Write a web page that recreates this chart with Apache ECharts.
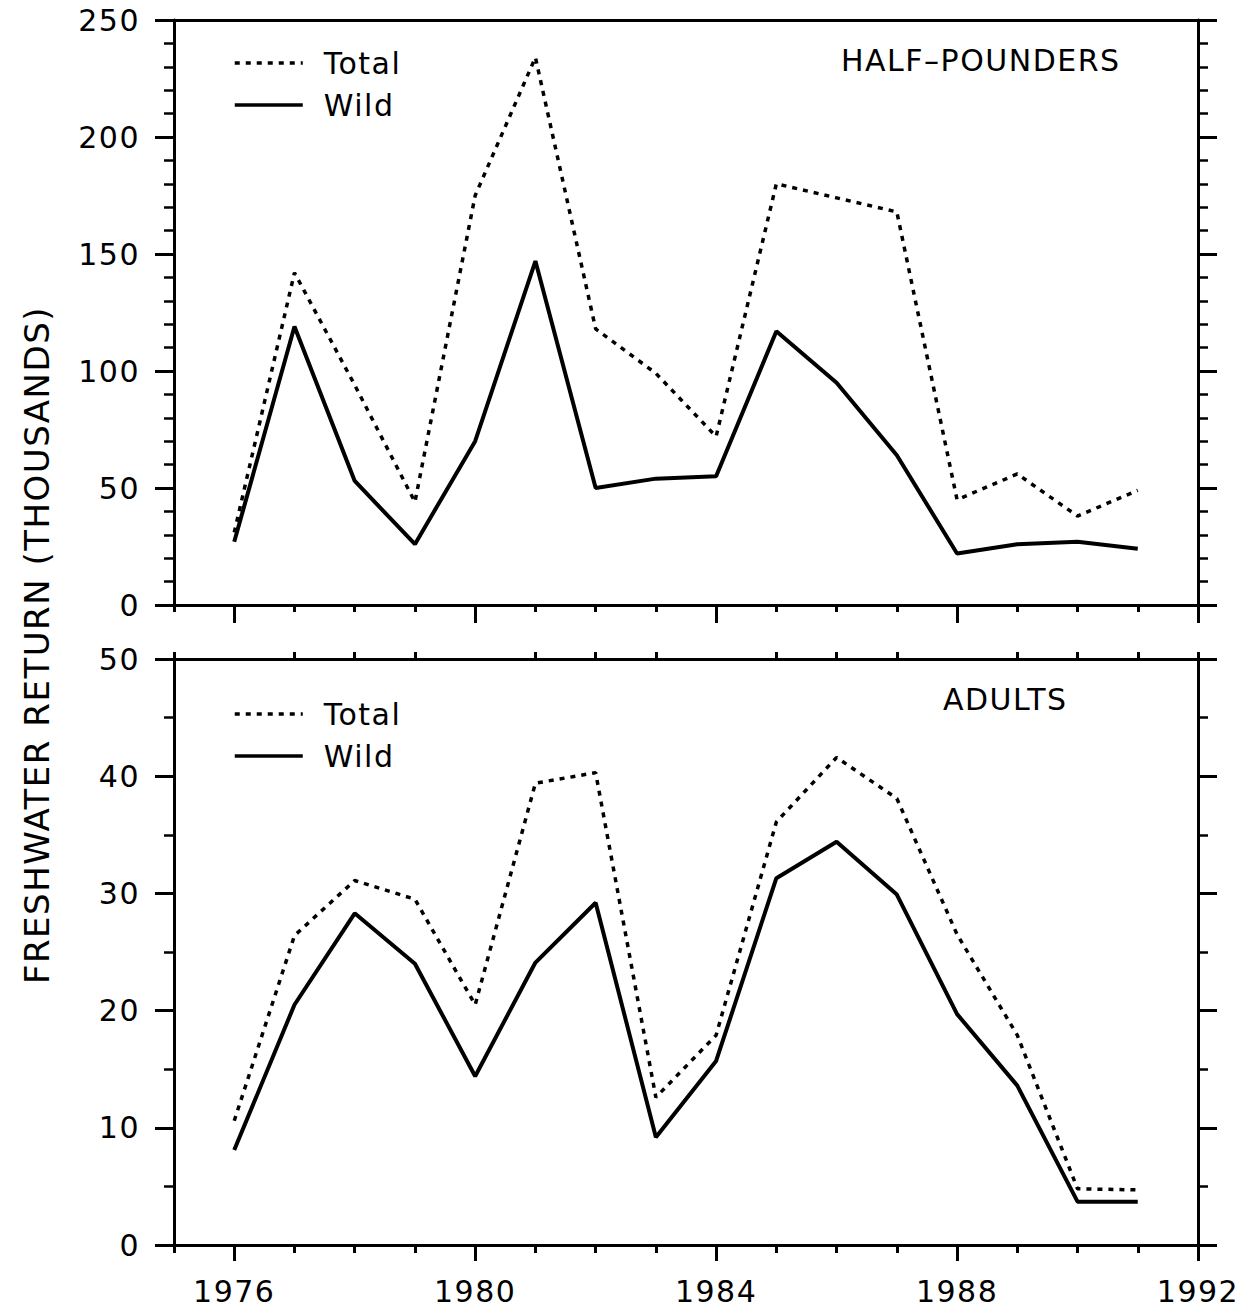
<!DOCTYPE html>
<html><head><meta charset="utf-8">
<script src="https://cdn.jsdelivr.net/npm/echarts@6/dist/echarts.min.js"></script>
<style>
html,body{margin:0;padding:0;background:#fff}
#chart{width:1257px;height:1310px}
#chart text{letter-spacing:1.5px}
</style></head><body><div id="chart"></div>
<script>
const years = [1976,1977,1978,1979,1980,1981,1982,1983,1984,1985,1986,1987,1988,1989,1990,1991];
const halfTotal = [31,142,94,44,175,234,118,99,72,180,174,168,45,56,38,49];
const halfWild  = [27,119,53,26,70,147,50,54,55,117,95,64,22,26,27,24];
const adultTotal = [10.6,26.4,31.1,29.5,20.5,39.4,40.3,12.6,17.9,36.1,41.6,38.1,26.5,17.9,4.8,4.7];
const adultWild  = [8.1,20.5,28.3,24.0,14.4,24.1,29.2,9.2,15.7,31.3,34.4,29.9,19.7,13.6,3.7,3.7];
const yearLabels = [1976,1980,1984,1988,1992];
const allYears = [1975,1976,1977,1978,1979,1980,1981,1982,1983,1984,1985,1986,1987,1988,1989,1990,1991,1992];
const minorYears = [1975,1977,1978,1979,1981,1982,1983,1985,1986,1987,1989,1990,1991,1992];
const panelNames = ['HALF–POUNDERS','ADULTS'];
const yTitle = 'FRESHWATER RETURN (THOUSANDS)';

const FONT = 'DejaVu Sans';
const BLACK = '#000';
const pairs = (vals) => years.map((y,i)=>[y, vals[i]]);

function xAx(grid, pos, opts){
  return Object.assign({
    type:'value', gridIndex:grid, position:pos, min:1975, max:1992,
    axisLine:{show:false, lineStyle:{color:BLACK,width:3}},
    axisTick:{show:false},
    axisLabel:{show:false},
    splitLine:{show:false}
  }, opts);
}
function yAx(grid, pos, max, interval, minorSplit, showLabel){
  return {
    type:'value', gridIndex:grid, position:pos, min:0, max:max, interval:interval,
    axisLine:{show:true, onZero:false, lineStyle:{color:BLACK,width:3}},
    axisTick:{show:true, length:19, lineStyle:{color:BLACK,width:3}},
    minorTick:{show:true, splitNumber:minorSplit, length:10, lineStyle:{color:BLACK,width:2.5}},
    axisLabel:{show:showLabel, margin:34, fontSize:30, fontFamily:FONT, color:BLACK, showMinLabel:true, showMaxLabel:true},
    splitLine:{show:false}, minorSplitLine:{show:false}
  };
}

const chart = echarts.init(document.getElementById('chart'), null, {renderer:'svg'});
const legendBase = {
  data:['Total','Wild'], orient:'vertical', itemWidth:68, itemHeight:28, itemGap:12,
  selectedMode:false,
  itemStyle:{color:'rgba(0,0,0,0)', borderWidth:0, opacity:0},
  lineStyle:{width:3.5},
  textStyle:{fontSize:30, fontFamily:FONT, color:BLACK, padding:[0,0,0,16]}
};
chart.setOption({
  animation:false,
  backgroundColor:'#fff',
  grid:[
    {left:174, top:20, width:1024, height:585},
    {left:174, top:659, width:1024, height:586}
  ],
  title:[
    {text:panelNames[0], left:836, top:40, textStyle:{fontSize:30, fontWeight:'normal', fontFamily:FONT, color:BLACK}},
    {text:panelNames[1], left:938, top:679, textStyle:{fontSize:30, fontWeight:'normal', fontFamily:FONT, color:BLACK}}
  ],
  legend:[
    Object.assign({left:228, top:43}, legendBase),
    Object.assign({left:228, top:694}, legendBase)
  ],
  xAxis:[
    xAx(0,'bottom',{axisLine:{show:true,onZero:false,lineStyle:{color:BLACK,width:3}}, axisTick:{show:true, customValues:allYears, length:7, lineStyle:{color:BLACK,width:3}}}),
    xAx(0,'bottom',{axisTick:{show:true, customValues:yearLabels, length:18, lineStyle:{color:BLACK,width:3}}}),
    xAx(0,'top',{axisLine:{show:true,onZero:false,lineStyle:{color:BLACK,width:3}}}),
    xAx(1,'bottom',{axisLine:{show:true,onZero:false,lineStyle:{color:BLACK,width:3}}, axisTick:{show:true, customValues:allYears, length:8, lineStyle:{color:BLACK,width:3}},
      axisLabel:{show:true, customValues:yearLabels, margin:31, fontSize:30, fontFamily:FONT, color:BLACK, formatter:(v)=>String(v)}}),
    xAx(1,'bottom',{axisTick:{show:true, customValues:yearLabels, length:16, lineStyle:{color:BLACK,width:3}}}),
    xAx(1,'top',{axisLine:{show:true,onZero:false,lineStyle:{color:BLACK,width:3}}, axisTick:{show:true, customValues:minorYears, length:7, lineStyle:{color:BLACK,width:3}}})
  ],
  yAxis:[
    yAx(0,'left',250,50,5,true),
    yAx(0,'right',250,50,5,false),
    yAx(1,'left',50,10,2,true),
    yAx(1,'right',50,10,2,false)
  ],
  graphic:[{
    type:'text', x:37, y:645, rotation:Math.PI/2,
    style:{text:yTitle, fontSize:34, fontFamily:FONT, fill:BLACK, align:'center', verticalAlign:'middle', textAlign:'center', textVerticalAlign:'middle'}
  }],
  series:[
    {name:'Total', type:'line', xAxisIndex:0, yAxisIndex:0, data:pairs(halfTotal), symbol:'none', itemStyle:{color:BLACK}, lineStyle:{color:BLACK,width:3.5,type:[5,6]}},
    {name:'Wild', type:'line', xAxisIndex:0, yAxisIndex:0, data:pairs(halfWild), symbol:'none', itemStyle:{color:BLACK}, lineStyle:{color:BLACK,width:4,type:'solid'}},
    {name:'Total', type:'line', xAxisIndex:3, yAxisIndex:2, data:pairs(adultTotal), symbol:'none', itemStyle:{color:BLACK}, lineStyle:{color:BLACK,width:3.5,type:[5,6]}},
    {name:'Wild', type:'line', xAxisIndex:3, yAxisIndex:2, data:pairs(adultWild), symbol:'none', itemStyle:{color:BLACK}, lineStyle:{color:BLACK,width:4,type:'solid'}}
  ]
});
</script></body></html>
